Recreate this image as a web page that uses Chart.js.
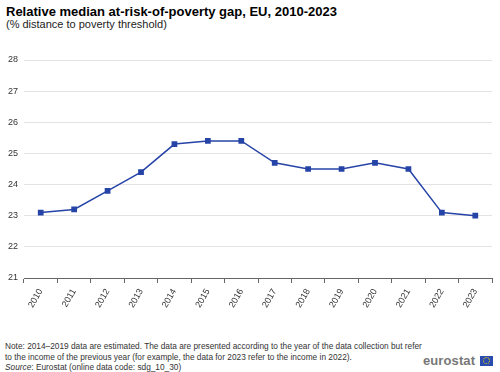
<!DOCTYPE html>
<html>
<head>
<meta charset="utf-8">
<script src="https://cdn.jsdelivr.net/npm/chart.js@4.4.1/dist/chart.umd.min.js"></script>
<style>
  body { margin: 0; background: #fff; font-family: "Liberation Sans", Arial, sans-serif; }
  #wrap { position: relative; width: 500px; height: 372px; overflow: hidden; }
  #title { position: absolute; left: 6px; top: 4px; font-size: 13px; font-weight: bold; color: #000; }
  #subtitle { position: absolute; left: 6px; top: 18px; font-size: 11px; color: #222; }
  #chartBox { position: absolute; left: 0; top: 45px; width: 500px; height: 290px; }
  #note { position: absolute; left: 5px; top: 341px; font-size: 8.3px; line-height: 10.5px; color: #333; }
  #logo { position: absolute; left: 423px; top: 353px; font-size: 13px; font-weight: bold; color: #777; letter-spacing: 0.1px; }
  #flag { position: absolute; left: 480px; top: 356px; width: 13px; height: 10px; background: #2a4bb0; }
  #flag div { position: absolute; left: 3px; top: 1px; width: 5px; height: 5px; border: 1px dotted #f5d300; border-radius: 50%; }
</style>
</head>
<body>
<div id="wrap">
  <div id="title">Relative median at-risk-of-poverty gap, EU, 2010-2023</div>
  <div id="subtitle">(% distance to poverty threshold)</div>
  <div id="chartBox"><canvas id="lineChart" width="500" height="290"></canvas></div>
  <div id="note">Note: 2014–2019 data are estimated. The data are presented according to the year of the data collection but refer<br>to the income of the previous year (for example, the data for 2023 refer to the income in 2022).<br><i>Source</i>: Eurostat (online data code: sdg_10_30)</div>
  <div id="logo">eurostat</div>
  <div id="flag"><div></div></div>
</div>
<script>
// Datos del gráfico
const years = ["2010", "2011", "2012", "2013", "2014", "2015", "2016", "2017", "2018", "2019", "2020", "2021", "2022", "2023"];
const gapValues = [23.1, 23.2, 23.8, 24.4, 25.3, 25.4, 25.4, 24.7, 24.5, 24.5, 24.7, 24.5, 23.1, 23.0];
const yMin = 21;
const yMax = 28;

const lineCtx = document.getElementById("lineChart").getContext("2d");
const lineChart = new Chart(lineCtx, {
  type: "line",
  data: {
    labels: years,
    datasets: [
      {
        label: "EU",
        data: gapValues,
        borderColor: "#2644A7",
        backgroundColor: "#2644A7",
        borderWidth: 1.5,
        pointStyle: "rect",
        pointRadius: 3,
        pointHoverRadius: 3,
        tension: 0,
        fill: false,
      },
    ],
  },
  options: {
    responsive: false,
    animation: false,
    devicePixelRatio: 1,
    layout: { padding: { top: 15, left: 0, right: 8, bottom: 0 } },
    plugins: {
      legend: { display: false },
      tooltip: { enabled: false },
    },
    scales: {
      x: {
        offset: true,
        grid: {
          display: true,
          drawOnChartArea: false,
          drawTicks: true,
          tickLength: 5,
          offset: true,
          color: "#666",
        },
        border: { display: true, color: "#666", width: 1 },
        ticks: {
          color: "#333",
          font: { family: "Liberation Sans, Arial", size: 9 },
          minRotation: 60,
          maxRotation: 60,
          padding: 4,
          autoSkip: false,
        },
        afterFit: (scale) => { scale.height = 57; },
      },
      y: {
        min: yMin,
        max: yMax,
        ticks: {
          stepSize: 1,
          color: "#333",
          font: { family: "Liberation Sans, Arial", size: 9 },
          padding: 6,
        },
        grid: { color: "#e3e3e3", drawTicks: false, lineWidth: 1 },
        border: { display: false },
        afterFit: (scale) => { scale.width = 24; },
      },
    },
  },
});
</script>
</body>
</html>
